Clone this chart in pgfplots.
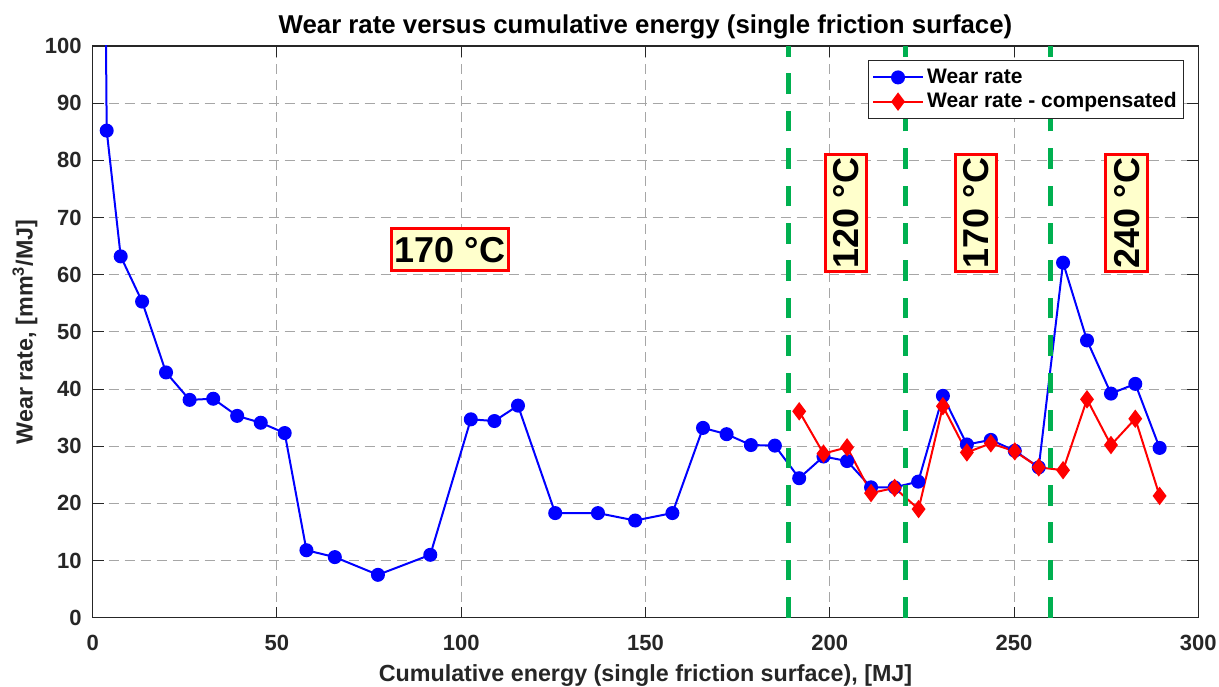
\documentclass[border=0pt]{standalone}
\usepackage{pgfplots}
\pgfplotsset{compat=1.18}
\usepackage{fontspec}
\setmainfont{Liberation Sans}
\definecolor{axgray}{HTML}{262626}
\definecolor{mgreen}{RGB}{0,176,80}
\definecolor{boxfill}{HTML}{FFFFCC}
\definecolor{gridgray}{HTML}{A6A6A6}
\tikzset{tbox/.style={draw=red, line width=1.5pt, fill=boxfill, text=black,
  font=\fontsize{18}{20}\selectfont\bfseries, inner xsep=1.5pt, inner ysep=4pt,
  text height=12.9pt, text depth=0pt}}
\begin{document}
\begin{tikzpicture}
\begin{axis}[
  name=ax,
  scale only axis,
  width=552.8pt, height=285.85pt,
  xmin=0, xmax=300, ymin=0, ymax=100,
  xtick={0,50,...,300}, ytick={0,10,...,100},
  tick align=inside,
  xtick pos=both, ytick pos=both,
  major tick length=5.5pt,
  tick style={axgray, line width=0.5pt},
  axis line style={axgray, line width=0.6pt},
  grid=major,
  major grid style={gridgray, line width=0.5pt, dash pattern=on 5pt off 3pt},
  /pgf/number format/assume math mode=true,
  ticklabel style={font=\fontsize{11}{12}\selectfont\bfseries, text=axgray},
  xticklabel style={anchor=base, yshift=-16.2pt},
  yticklabel style={anchor=east, xshift=-2pt},
  title={Wear rate versus cumulative energy (single friction surface)},
  every axis title shift=0pt,
  title style={at={(axis description cs:0.5,1.021)}, anchor=base, text=black,
    font=\fontsize{12.9}{14}\selectfont\bfseries},
  xlabel={Cumulative energy (single friction surface), [MJ]},
  xlabel style={at={(axis description cs:0.5,-0.1119)}, anchor=base, text=axgray,
    font=\fontsize{11.65}{13}\selectfont\bfseries},
  ylabel={Wear rate, [mm\textsuperscript{3}/MJ]},
  ylabel style={at={(axis description cs:-0.0543,0.5)}, anchor=base, text=axgray,
    font=\fontsize{11.65}{13}\selectfont\bfseries},
  legend style={at={(axis description cs:1,1)}, anchor=north east, xshift=-7pt, yshift=-7pt,
    draw=axgray, line width=0.5pt, fill=white, text=black,
    font=\fontsize{10.5}{12}\selectfont\bfseries, inner xsep=2pt, inner ysep=2.5pt,
    nodes={inner sep=1.6pt}, cells={anchor=west}},
  legend image code/.code={\draw[mark repeat=2,mark phase=2] plot coordinates {(0pt,0pt) (12.5pt,0pt) (25pt,0pt)};},
]
\addplot[blue, line width=1pt, mark=*, mark size=3pt, mark options={solid, fill=blue, draw=blue}] coordinates {
(3.3,125) (3.8,85.2) (7.6,63.2) (13.4,55.3) (19.9,42.9) (26.3,38.1) (32.7,38.3)
(39.2,35.3) (45.6,34.1) (52.1,32.3) (58.0,11.8) (65.7,10.6) (77.4,7.5) (91.6,11.0)
(102.6,34.7) (109.0,34.4) (115.4,37.1) (125.5,18.3) (137.1,18.3) (147.2,17.0)
(157.3,18.3) (165.6,33.2) (172.0,32.1) (178.6,30.2) (185.1,30.1) (191.7,24.4)
(198.3,28.2) (204.7,27.4) (211.2,22.8) (217.6,22.8) (224.0,23.8) (230.7,38.8)
(237.2,30.3) (243.7,31.1) (250.2,29.2) (256.7,26.3) (263.3,62.1) (269.8,48.5)
(276.3,39.2) (282.9,40.9) (289.5,29.7)
};
\addlegendentry{Wear rate}
\addplot[red, line width=1pt, mark=diamond*, mark size=3.8pt, mark options={solid, fill=red, draw=red}] coordinates {
(191.7,36.1) (198.3,28.7) (204.7,29.8) (211.2,21.8) (217.6,22.7) (224.1,19.0)
(230.7,37.0) (237.2,28.9) (243.7,30.5) (250.2,29.1) (256.7,26.3) (263.3,25.8)
(269.8,38.2) (276.3,30.2) (282.9,34.8) (289.5,21.3)
};
\addlegendentry{Wear rate - compensated}
\addplot[mgreen, line width=2.5pt, dash pattern=on 10.3pt off 8.4pt, forget plot] coordinates {(188.8,0) (188.8,100)};
\addplot[mgreen, line width=2.5pt, dash pattern=on 10.3pt off 8.4pt, forget plot] coordinates {(220.6,0) (220.6,100)};
\addplot[mgreen, line width=2.5pt, dash pattern=on 10.3pt off 8.4pt, forget plot] coordinates {(260.0,0) (260.0,100)};
\node[tbox] at (axis cs:96.9,64.4) {170 °C};
\node[tbox, rotate=90] at (axis cs:204.4,70.8) {120 °C};
\node[tbox, rotate=90] at (axis cs:239.7,70.8) {170 °C};
\node[tbox, rotate=90] at (axis cs:280.6,70.8) {240 °C};
\end{axis}
\pgfresetboundingbox
\path ([shift={(-46.35pt,-34.15pt)}]ax.south west) rectangle ([shift={(10.35pt,23pt)}]ax.north east);
\end{tikzpicture}
\end{document}
